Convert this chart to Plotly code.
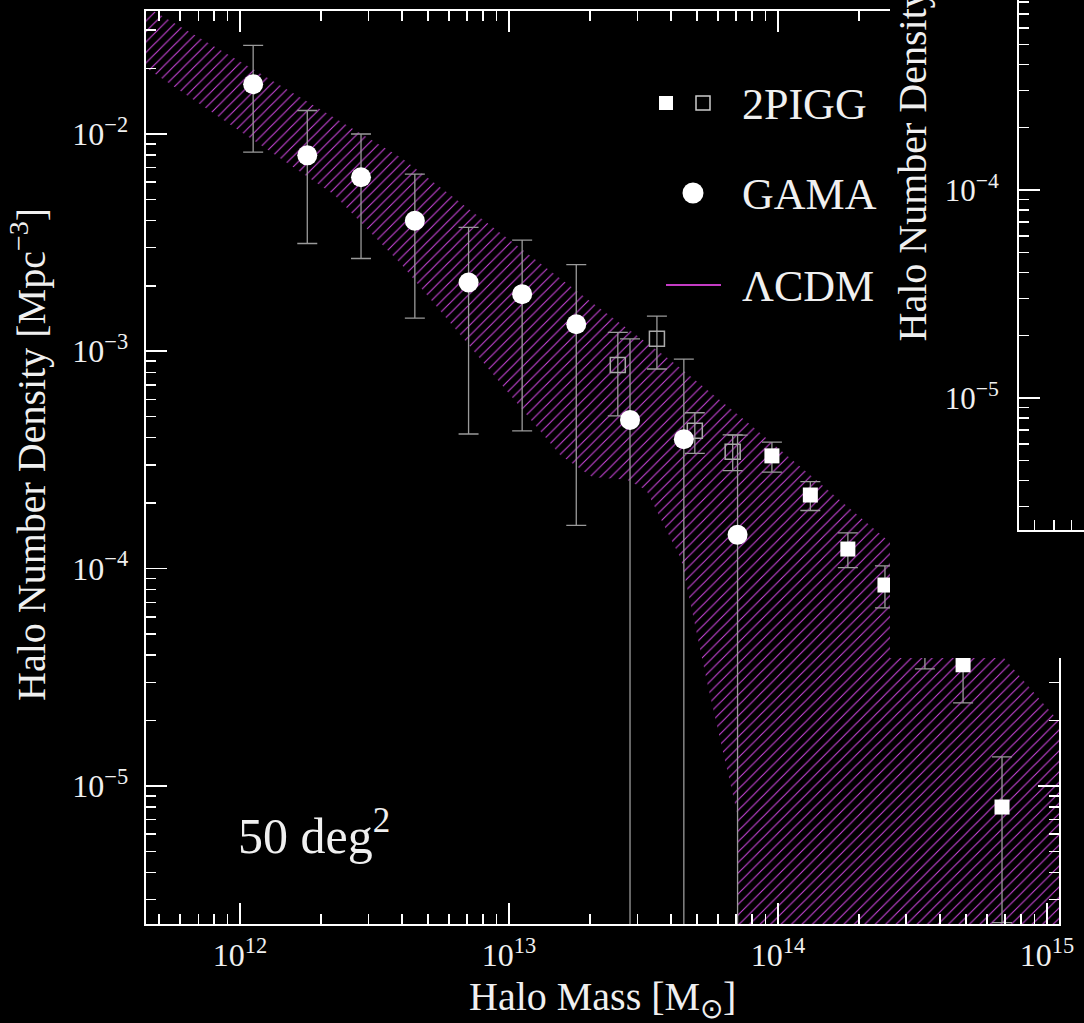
import numpy as np
import plotly.graph_objects as go

W, H = 1084, 1023

# ---------------- data ----------------
# GAMA (filled circles)
gama_mass = [1.12e12, 1.78e12, 2.82e12, 4.47e12, 7.08e12, 1.12e13, 1.78e13, 2.82e13, 4.47e13, 7.08e13]
gama_n = [1.69e-2, 7.96e-3, 6.31e-3, 3.98e-3, 2.07e-3, 1.83e-3, 1.33e-3, 4.83e-4, 3.94e-4, 1.43e-4]
gama_hi = [2.55e-2, 1.28e-2, 9.98e-3, 6.53e-3, 3.71e-3, 3.24e-3, 2.50e-3, 1.14e-3, 9.2e-4, 4.11e-4]
gama_lo = [8.24e-3, 3.13e-3, 2.67e-3, 1.42e-3, 4.16e-4, 4.3e-4, 1.58e-4, 0.0, 0.0, 0.0]

# 2PIGG (open squares)
pigg_open_mass = [2.54e13, 3.55e13, 4.91e13, 6.79e13]
pigg_open_n = [8.65e-4, 1.14e-3, 4.31e-4, 3.45e-4]
pigg_open_hi = [1.22e-3, 1.45e-3, 5.21e-4, 4.12e-4]
pigg_open_lo = [5.04e-4, 8.28e-4, 3.39e-4, 2.82e-4]

# 2PIGG (filled squares)
pigg_mass = [9.5e13, 1.32e14, 1.82e14, 2.50e14, 3.52e14, 4.88e14, 6.81e14]
pigg_n = [3.30e-4, 2.18e-4, 1.23e-4, 8.4e-5, 4.8e-5, 3.61e-5, 8.0e-6]
pigg_hi = [3.82e-4, 2.51e-4, 1.46e-4, 1.03e-4, 6.5e-5, 5.1e-5, 1.36e-5]
pigg_lo = [2.78e-4, 1.85e-4, 1.01e-4, 6.6e-5, 3.46e-5, 2.41e-5, 2.35e-6]

# LambdaCDM band: upper and lower envelopes
lcdm_hi_mass = [3.98e11, 1.10e12, 3.98e12, 2.04e13, 3.98e13, 7.76e13, 2.63e14, 6.76e14, 1.26e15]
lcdm_hi = [4.19e-2, 2.01e-2, 7.76e-3, 1.67e-3, 9.12e-4, 4.68e-4, 1.31e-4, 4.01e-5, 1.65e-5]
lcdm_lo_mass = [3.98e11, 2.24e12, 3.98e12, 7.08e12, 1.55e13, 2.04e13, 2.75e13, 3.24e13,
                4.37e13, 5.50e13, 7.05e13, 7.11e13, 1.26e15]
lcdm_lo = [2.22e-2, 5.25e-3, 2.51e-3, 1.07e-3, 3.33e-4, 2.64e-4, 2.56e-4, 2.30e-4,
           1.10e-4, 2.86e-5, 7.5e-6, 1e-12, 1e-12]   # 1e-12 ~ zero (off scale)

x_tick_vals = [1e12, 1e13, 1e14, 1e15]
x_tick_text = ["10<sup>12</sup>", "10<sup>13</sup>", "10<sup>14</sup>", "10<sup>15</sup>"]
y_tick_vals = [1e-2, 1e-3, 1e-4, 1e-5]
y_tick_text = ["10<sup>−2</sup>", "10<sup>−3</sup>", "10<sup>−4</sup>", "10<sup>−5</sup>"]
y2_tick_vals = [1e-4, 1e-5]
y2_tick_text = ["10<sup>−4</sup>", "10<sup>−5</sup>"]

# ---------------- helpers ----------------
def fx(p):
    return p / W


def fy(p):
    return 1 - p / H


def minor_vals(lo_exp, hi_exp):
    return [k * 10.0 ** e for e in range(lo_exp, hi_exp + 1) for k in range(2, 10)]


FONT = "Liberation Serif"
TXT = "#f0f0f0"
ERR = "#9a9a9a"
HATCH = "#c844d8"

fig = go.Figure()

# band
poly_x = list(lcdm_hi_mass) + list(lcdm_lo_mass[::-1])
poly_y = list(lcdm_hi) + list(lcdm_lo[::-1])
fig.add_trace(go.Scatter(
    x=poly_x, y=poly_y, mode="none", fill="toself", fillcolor="rgba(0,0,0,0)",
    fillpattern=dict(shape="/", size=7.4, solidity=0.15, fgcolor=HATCH,
                     bgcolor="rgba(0,0,0,0)", fillmode="replace"),
    hoverinfo="skip", showlegend=False))


def err(vals, hi, lo):
    v = np.array(vals)
    return dict(type="data", symmetric=False, array=list(np.array(hi) - v),
                arrayminus=list(v - np.array(lo)), color=ERR, thickness=1.3, width=10)


fig.add_trace(go.Scatter(
    x=pigg_open_mass, y=pigg_open_n, mode="markers",
    marker=dict(symbol="square-open", size=15, color="#aaaaaa", line=dict(width=1.5, color="#aaaaaa")),
    error_y=err(pigg_open_n, pigg_open_hi, pigg_open_lo), showlegend=False))
fig.add_trace(go.Scatter(
    x=pigg_mass, y=pigg_n, mode="markers",
    marker=dict(symbol="square", size=15, color="white", line=dict(width=0)),
    error_y=err(pigg_n, pigg_hi, pigg_lo), showlegend=False))
fig.add_trace(go.Scatter(
    x=gama_mass, y=gama_n, mode="markers",
    marker=dict(symbol="circle", size=20, color="white", line=dict(width=0)),
    error_y=err(gama_n, gama_hi, gama_lo), showlegend=False))

# cover panel (black mask of the overlapping inset)
fig.add_trace(go.Scatter(
    x=[0, 1, 1, 0, 0], y=[0, 0, 1, 1, 0], mode="none", fill="toself", fillcolor="black",
    xaxis="x2", yaxis="y2", hoverinfo="skip", showlegend=False))

# inset panel (empty axes)
fig.add_trace(go.Scatter(x=[], y=[], xaxis="x3", yaxis="y3", showlegend=False))

X0, X1, Y0, Y1 = 145.5, 1059, 11, 924
axis_common = dict(showline=True, linecolor="white", linewidth=2, ticks="inside",
                   tickcolor="white", tickwidth=1.5, showgrid=False, zeroline=False)

fig.update_layout(
    width=W, height=H, autosize=False, margin=dict(l=0, r=0, t=0, b=0, autoexpand=False),
    paper_bgcolor="black", plot_bgcolor="black", showlegend=False,
    xaxis=dict(type="log", range=[11.649, 15.045], domain=[fx(X0), fx(X1)], anchor="y",
               mirror="ticks", ticklen=21, tickmode="array", tickvals=x_tick_vals,
               ticktext=x_tick_text, ticklabelstandoff=2,
               tickfont=dict(family=FONT, size=32, color=TXT),
               minor=dict(ticks="inside", ticklen=10, tickwidth=1.5, tickcolor="white",
                          tickvals=minor_vals(11, 15), showgrid=False),
               **axis_common),
    yaxis=dict(type="log", range=[-5.635, -1.435], domain=[fy(Y1), fy(Y0)], anchor="x",
               mirror="ticks", ticklen=21, tickmode="array", tickvals=y_tick_vals,
               ticktext=y_tick_text, ticklabelstandoff=9,
               tickfont=dict(family=FONT, size=32, color=TXT),
               minor=dict(ticks="inside", ticklen=10, tickwidth=1.5, tickcolor="white",
                          tickvals=minor_vals(-6, -2), showgrid=False),
               **axis_common),
    xaxis2=dict(domain=[fx(890), 1], range=[0, 1], visible=False, anchor="y2"),
    yaxis2=dict(domain=[fy(658), 1], range=[0, 1], visible=False, anchor="x2"),
    xaxis3=dict(type="log", range=[0.80, 0.991], domain=[fx(1019), 1], anchor="y3",
                tickmode="array", tickvals=[], showticklabels=False, ticklen=21,
                minor=dict(ticks="inside", ticklen=10, tickwidth=1.5, tickcolor="white",
                           tickvals=[7, 8, 9], showgrid=False),
                **axis_common),
    yaxis3=dict(type="log", range=[-5.635, -3.087], domain=[fy(530), 1], anchor="x3",
                ticklen=21, tickmode="array", tickvals=y2_tick_vals, ticktext=y2_tick_text,
                ticklabelstandoff=12, tickfont=dict(family=FONT, size=31, color=TXT),
                minor=dict(ticks="inside", ticklen=10, tickwidth=1.5, tickcolor="white",
                           tickvals=minor_vals(-6, -4), showgrid=False),
                **axis_common),
)

ann = []
ann.append(dict(text="Halo Mass [M<sub>⊙</sub>]", x=fx((X0 + X1) / 2), y=fy(999),
                xref="paper", yref="paper", showarrow=False, xanchor="center", yanchor="middle",
                font=dict(family=FONT, size=40, color=TXT)))
ann.append(dict(text="Halo Number Density [Mpc<sup>−3</sup>]", x=fx(28), y=fy(455),
                xref="paper", yref="paper", showarrow=False, textangle=-90,
                xanchor="center", yanchor="middle", font=dict(family=FONT, size=40, color=TXT)))
ann.append(dict(text="Halo Number Density [Mpc<sup>−3</sup>]", x=fx(910), y=fy(344),
                xref="paper", yref="paper", showarrow=False, textangle=-90,
                xanchor="center", yanchor="bottom", font=dict(family=FONT, size=40, color=TXT)))
ann.append(dict(text="50 deg<sup>2</sup>", x=fx(236), y=fy(832), xref="paper", yref="paper",
                showarrow=False, xanchor="left", yanchor="middle",
                font=dict(family=FONT, size=50, color=TXT)))
for label, yc in [("2PIGG", 104), ("GAMA", 194), ("ΛCDM", 286)]:
    ann.append(dict(text=label, x=fx(740), y=fy(yc), xref="paper", yref="paper",
                    showarrow=False, xanchor="left", yanchor="middle",
                    font=dict(family=FONT, size=44, color=TXT)))
fig.update_layout(annotations=ann)

shapes = [
    dict(type="rect", xref="paper", yref="paper", x0=fx(659), x1=fx(673), y0=fy(110), y1=fy(96),
         fillcolor="white", line=dict(width=0), layer="above"),
    dict(type="rect", xref="paper", yref="paper", x0=fx(696), x1=fx(710), y0=fy(110), y1=fy(96),
         fillcolor="rgba(0,0,0,0)", line=dict(width=1.5, color="#cccccc"), layer="above"),
    dict(type="circle", xref="paper", yref="paper", x0=fx(682.5), x1=fx(703.5), y0=fy(203.5),
         y1=fy(182.5), fillcolor="white", line=dict(width=0), layer="above"),
    dict(type="line", xref="paper", yref="paper", x0=fx(666), x1=fx(721), y0=fy(285), y1=fy(285),
         line=dict(width=2, color="#c43cc4"), layer="above"),
]
fig.update_layout(shapes=shapes)

post = ("document.documentElement.style.margin='0';document.documentElement.style.overflow='hidden';"
        "document.body.style.margin='0';document.body.style.padding='0';document.body.style.overflow='hidden';"
        "var gd=document.getElementById('{plot_id}');"
        "if(window.Plotly&&gd){gd.style.width='" + str(W) + "px';gd.style.height='" + str(H) + "px';"
        "Plotly.relayout(gd,{autosize:false,width:" + str(W) + ",height:" + str(H) + "});}")
fig.write_html("out.html", post_script=post,
               config={"responsive": False, "displayModeBar": False, "staticPlot": True})
